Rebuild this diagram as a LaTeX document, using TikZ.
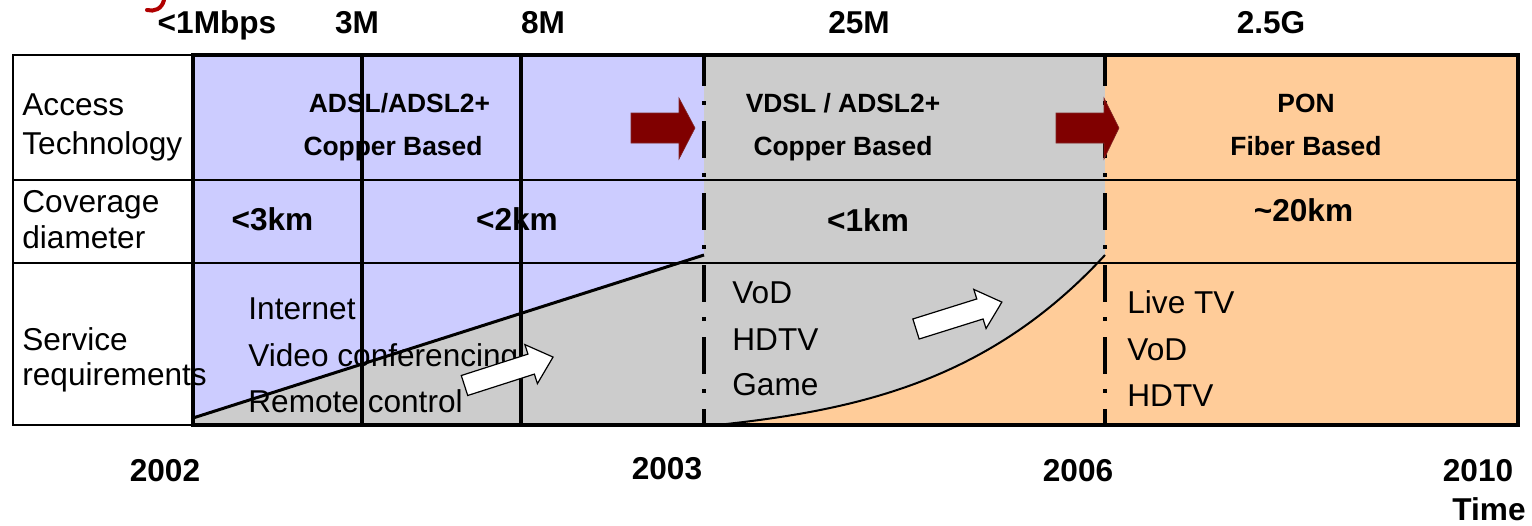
\documentclass[tikz,border=0pt]{standalone}
\usepackage{fontspec}
\setmainfont{Liberation Sans}
\definecolor{blueA}{HTML}{CCCCFF}
\definecolor{grayA}{HTML}{CCCCCC}
\definecolor{orangeA}{HTML}{FFCC99}
\definecolor{darkred}{HTML}{800000}
\definecolor{titlered}{HTML}{B00000}
\tikzset{
  lbl/.style={font=\fontsize{15.8}{18}\selectfont, anchor=base west, inner sep=0pt},
  bl/.style={font=\bfseries\fontsize{15.8}{18}\selectfont, anchor=base, inner sep=0pt},
  tech/.style={font=\bfseries\fontsize{13.2}{16}\selectfont, anchor=base, inner sep=0pt},
  thickline/.style={line width=1.75pt},
  rowline/.style={line width=0.8pt},
  dashdotline/.style={line width=2pt, dash pattern=on 18.5pt off 7.5pt on 2pt off 8pt, dash phase=3pt},
  whitearrow/.style={draw=black, fill=white, line width=0.6pt, line join=miter},
  redarrow/.style={fill=darkred, draw=darkred!70!gray, line width=0.3pt}
}
\begin{document}
\begin{tikzpicture}[x=0.5pt, y=-0.5pt]
\useasboundingbox (0,0) rectangle (1532,525);
% fills
\fill[blueA] (193,55) rectangle (704,425);
\fill[grayA] (193,418) -- (704,255) -- (704,55) -- (1105,55) -- (1105,425) -- (193,425) -- cycle;
\fill[orangeA] (1105,55) rectangle (1518,425);
\fill[orangeA] (717,425) .. controls (860,410) and (990,380) .. (1105,255) -- (1105,425) -- cycle;
% title fragment
\draw[titlered, line width=2pt, line cap=round] (164,0) .. controls (162,9) and (154,12) .. (147,10);
% top labels
\node[bl] (r1) at (217,33) {<1Mbps};
\node[bl] (r2) at (357,33) {3M};
\node[bl] (r3) at (543,33) {8M};
\node[bl] (r4) at (859,33) {25M};
\node[bl] (r5) at (1271,33) {2.5G};
% row labels
\node[lbl] (l1) at (22,115) {Access};
\node[lbl] (l2) at (22,154) {Technology};
\node[lbl] (l3) at (22,212) {Coverage};
\node[lbl] (l4) at (22,248) {diameter};
\node[lbl] (l5) at (22,350) {Service};
\node[lbl] (l6) at (22,385) {requirements};
% technology
\node[tech] (t1) at (399.5,112) {ADSL/ADSL2+};
\node[tech] (t2) at (393,155) {Copper Based};
\node[tech] (t3) at (843,112) {VDSL / ADSL2+};
\node[tech] (t4) at (843,155) {Copper Based};
\node[tech] (t5) at (1306,112) {PON};
\node[tech] (t6) at (1306,155) {Fiber Based};
% coverage
\node[bl] (c1) at (272.5,230) {<3km};
\node[bl] (c2) at (517,230) {<2km};
\node[bl] (c3) at (868,231) {<1km};
\node[bl] (c4) at (1303.5,221) {\textasciitilde20km};
% services
\node[lbl] (s1) at (248,319) {Internet};
\node[lbl] (s2) at (248,366) {Video conferencing};
\node[lbl] (s3) at (248,412) {Remote control};
\node[lbl] (s4) at (732,303) {VoD};
\node[lbl] (s5) at (732,350) {HDTV};
\node[lbl] (s6) at (732,395) {Game};
\node[lbl] (s7) at (1127,313) {Live TV};
\node[lbl] (s8) at (1127,360) {VoD};
\node[lbl] (s9) at (1127,406) {HDTV};
% years
\node[bl] (y1) at (165,481) {2002};
\node[bl] (y2) at (667,479) {2003};
\node[bl] (y3) at (1078,481) {2006};
\node[bl] (y4) at (1478,481) {2010};
\node[bl] (y5) at (1489,520) {Time};
% grid lines
\draw[rowline] (13,180) -- (1518,180);
\draw[rowline] (13,263) -- (1518,263);
\draw[thickline] (362,55) -- (362,425);
\draw[thickline] (521,55) -- (521,425);
\draw[dashdotline] (704,55) -- (704,425);
\draw[dashdotline] (1105,55) -- (1105,425);
\draw[line width=0.6pt] (193,55) -- (13,55) -- (13,425) -- (193,425);
\draw[thickline] (193,55) rectangle (1518,425);
% trend lines
\draw[line width=1.5pt] (193,418) -- (704,255);
\draw[line width=1pt] (717,425) .. controls (860,410) and (990,380) .. (1105,255);
% red arrows
\fill[redarrow] (631,113) -- (679,113) -- (679,98) -- (695,128) -- (679,159) -- (679,143) -- (631,143) -- cycle;
\fill[redarrow] (1056,113) -- (1104,113) -- (1104,98) -- (1119,128) -- (1104,159) -- (1104,143) -- (1056,143) -- cycle;
% white arrows
\begin{scope}[shift={(464.5,385.5)}, rotate=17.8]
\draw[whitearrow] (0,-10.5) -- (70,-10.5) -- (70,-20.5) -- (93,0) -- (70,20.5) -- (70,10.5) -- (0,10.5) -- cycle;
\end{scope}
\begin{scope}[shift={(916,329)}, rotate=17.4]
\draw[whitearrow] (0,-10.5) -- (67,-10.5) -- (67,-20.5) -- (90,0) -- (67,20.5) -- (67,10.5) -- (0,10.5) -- cycle;
\end{scope}
\end{tikzpicture}
\end{document}
